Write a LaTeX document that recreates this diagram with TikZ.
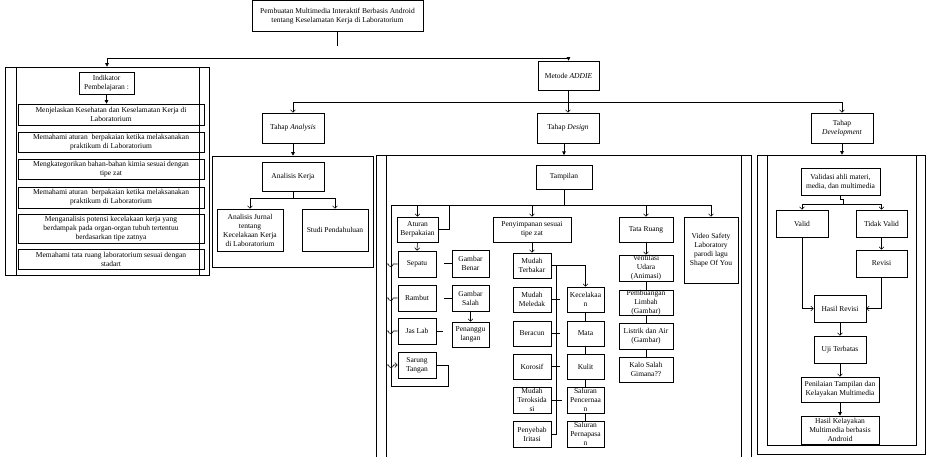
\documentclass[tikz,border=0pt]{standalone}
\usepackage{fontspec}
\setmainfont{Liberation Serif}
\usetikzlibrary{arrows.meta,fit}
\newcommand\mybox[6]{%
  \node[box, fit={(#2,#3) (#4,#5)}] (#1) {};
  \node[txt] (#1t) at (#1.center) {#6};}
\begin{document}
\begin{tikzpicture}[x=1pt,y=-1pt,
  txt/.style={font=\fontsize{7.5}{9}\selectfont, align=center, inner sep=0pt},
  box/.style={draw, inner sep=0pt, line width=0.6pt},
  ln/.style={line width=0.6pt},
  af/.style={ln,-{Triangle[length=3.5pt,width=3.5pt]}},
  ao/.style={ln,-{Straight Barb[length=2.5pt,width=5pt]}},
]
\useasboundingbox (0,0) rectangle (930,457);

% ---------- top ----------
\mybox{top}{252}{0.5}{423}{31}{Pembuatan Multimedia Interaktif Berbasis Android\\tentang Keselamatan Kerja di Laboratorium}
\coordinate (topend) at (337.5,46);
\draw[ln] (top.south) -- (topend);
\coordinate (h1) at (337.5,58);

% ---------- left panel ----------
\node[box, fit={(5,67) (209,275)}] (P1) {};
\draw[ln] (16,67) -- (16,275) (199,67) -- (199,275);
\mybox{ind}{79}{72}{134}{94}{Indikator\\Pembelajaran :}
\mybox{L1}{18}{104}{204}{125}{Menjelaskan Kesehatan dan Keselamatan Kerja di\\Laboratorium}
\mybox{L2}{18}{132}{204}{152}{Memahami aturan\ \ berpakaian ketika melaksanakan\\praktikum di Laboratorium}
\mybox{L3}{18}{159}{204}{179}{Mengkategorikan bahan-bahan kimia sesuai dengan\\tipe zat}
\mybox{L4}{18}{187}{204}{208}{Memahami aturan\ \ berpakaian ketika melaksanakan\\praktikum di Laboratorium}
\mybox{L5}{18}{214}{204}{243}{Menganalisis potensi kecelakaan kerja yang\\berdampak pada organ-organ tubuh tertentuu\\berdasarkan tipe zatnya}
\mybox{L6}{18}{249}{204}{269}{Memahami tata ruang laboratorium sesuai dengan\\stadart}
\draw[af] (ind.south) -- (ind.south |- L1.north);

% ---------- ADDIE ----------
\mybox{met}{538}{61}{599}{90}{Metode \textit{ADDIE}}
\draw[af] (h1) -| (P1.north);
\draw[af] (h1) -| (met.north);
\mybox{TA}{262}{113}{324}{143}{Tahap \textit{Analysis}}
\mybox{TD}{537}{113}{599}{143}{Tahap \textit{Design}}
\mybox{TV0}{811}{113}{873}{143}{Tahap\\\textit{Development}}
\coordinate (h2) at (568.5,102);
\draw[ln] (met.south) -- (h2);
\draw[ao] (h2) -| (TA.north);
\draw[ao] (h2) -| (TD.north);
\draw[ao] (h2) -| (TV0.north);

% ---------- Analysis panel ----------
\node[box, fit={(212,156) (373,267)}] (PA) {};
\draw[af] (TA.south) -- (TA.south |- PA.north);
\mybox{AK}{262}{162}{324}{191}{Analisis Kerja}
\mybox{AJ}{217}{209}{283}{251}{Analisis Jurnal\\tentang\\Kecelakaan Kerja\\di Laboratorium}
\mybox{SP}{302}{209}{368}{251}{Studi Pendahuluan}
\coordinate (h3) at (293,198);
\draw[ln] (AK.south) -- (h3);
\draw[ao] (h3) -| (AJ.north);
\draw[ao] (h3) -| (SP.north);

% ---------- Design panel ----------
\node[box, fit={(376,155) (751,465)}] (PD) {};
\draw[ln] (386,155) -- (386,465) (741,155) -- (741,465);
\mybox{tmp}{536}{165}{592}{189}{Tampilan}
\draw[af] (564,143) -- (564,155);
\coordinate (h4) at (564,205);
\draw[ln] (tmp.south) -- (h4);
\mybox{ATB}{397}{217}{438}{242}{Aturan\\Berpakaian}
\mybox{PZ}{493}{217}{571}{242}{Penyimpanan sesuai\\tipe zat}
\mybox{TR}{619}{217}{673}{242}{Tata Ruang}
\mybox{VS}{684}{217}{738}{283}{Video Safety\\Laboratory\\parodi lagu\\Shape Of You}
\draw[ln] (391,205) -- (h4);
\draw[ao] (h4) -| (ATB.north);
\draw[ao] (h4) -| (PZ.north);
\draw[ao] (h4) -| (TR.north);
\draw[ao] (h4) -| (VS.north);
\draw[ln] (ATB.east) -- (449,229.5) -- (449,205);

% clothing
\mybox{SPT}{398}{251}{436}{277}{Sepatu}
\mybox{GB}{452}{250}{489}{277}{Gambar\\Benar}
\mybox{RB}{398}{285}{436}{311}{Rambut}
\mybox{GS}{452}{285}{489}{311}{Gambar\\Salah}
\mybox{PG}{452}{322}{489}{347}{Penanggu\\langan}
\mybox{JL}{398}{318}{436}{344}{Jas Lab}
\mybox{SRT}{398}{352}{436}{378}{Sarung\\Tangan}
\draw[ao] (ATB.south) -- (SPT.north);
\draw[ln] (444,263.5) -- (GB.west);
\draw[ln] (444,298) -- (GS.west);
\draw[ao] (GS.south) -- (PG.north);
\coordinate (jlend) at (443,331);
\draw[ln] (JL.east) -- (jlend);
\draw[ln] (391,205) -- (391,386) -- (448,386) -- (448,365) -- (SRT.east);
\foreach \n in {SPT,RB,JL}{
  \draw[ln] (\n.west) -- ++(-4.5,0) arc[start angle=0,end angle=180,radius=2.5] -- ++(-1.5,0);
}
\draw[ao] (386.5,365) -- (388.5,365) arc[start angle=180,end angle=0,radius=2.5] -- (SRT.west);

% substances
\mybox{MT}{513}{253}{551}{278}{Mudah\\Terbakar}
\mybox{MM}{513}{287}{551}{312}{Mudah\\Meledak}
\mybox{BR}{513}{321}{551}{346}{Beracun}
\mybox{KR}{513}{354}{551}{379}{Korosif}
\mybox{MO}{513}{387}{551}{413}{Mudah\\Teroksida\\si}
\mybox{PI}{513}{421}{551}{447}{Penyebab\\Iritasi}
\mybox{KC}{567}{287}{604}{312}{Kecelakaa\\n}
\mybox{MA}{567}{321}{604}{346}{Mata}
\mybox{KL}{567}{354}{604}{379}{Kulit}
\mybox{SC}{567}{387}{604}{413}{Saluran\\Pencernaa\\n}
\mybox{SN}{567}{421}{604}{447}{Saluran\\Pernapasa\\n}
\draw[ao] (PZ.south) -- (MT.north);
\coordinate (v5) at (556,265.5);
\draw[ln] (MT.east) -- (v5) -- (556,434) -- (PI.east);
\draw[ao] (v5) -| (KC.north);
\foreach \n in {MM,BR,KR}{ \draw[ln] (\n.east) -- ++(9,0); }
\draw[ln] (MO.east) -- ++(11,0);
\draw[ln] (KC.south) -- (MA.north) (MA.south) -- (KL.north) (KL.south) -- (SC.north) (SC.south) -- (SN.north);

% rooms
\mybox{VU}{619}{255}{673}{281}{Ventilasi\\Udara\\(Animasi)}
\mybox{PL}{619}{290}{673}{315}{Pembuangan\\Limbah\\(Gambar)}
\mybox{LA}{619}{323}{673}{349}{Listrik dan Air\\(Gambar)}
\mybox{KS}{619}{357}{673}{382}{Kalo Salah\\Gimana??}
\draw[ao] (TR.south) -- (VU.north);
\draw[ln] (VU.south) -- (PL.north) (PL.south) -- (LA.north) (LA.south) -- (KS.north);

% ---------- Development panel ----------
\node[box, fit={(757,155) (925,454)}] (PV) {};
\draw[ln] (767,155) -- (767,445) -- (916,445) -- (916,155);
\draw[af] (TV0.south) -- (TV0.south |- PV.north);
\mybox{VA}{801}{168}{880}{195}{Validasi ahli materi,\\media, dan multimedia}
\mybox{VL}{776}{210}{828}{237}{Valid}
\mybox{TV}{856}{210}{907}{237}{Tidak Valid}
\mybox{RV}{856}{250}{907}{277}{Revisi}
\mybox{HR}{814}{295}{866}{322}{Hasil Revisi}
\mybox{UT}{814}{336}{866}{363}{Uji Terbatas}
\mybox{PN}{801}{377}{879}{402}{Penilaian Tampilan dan\\Kelayakan Multimedia}
\mybox{HK}{801}{416}{879}{444}{Hasil Kelayakan\\Multimedia berbasis\\Android}
\coordinate (vj) at (843,204);
\draw[ln] (VA.south) -- (840.5,199.5) -- (843,199.5) -- (vj);
\draw[ao] (vj) -| (VL.north);
\draw[ao] (vj) -| (TV.north);
\draw[ao] (TV.south) -- (RV.north);
\draw[ao] (VL.south) |- (HR.west);
\draw[ao] (RV.south) |- (HR.east);
\draw[ao] (HR.south) -- (UT.north);
\draw[ao] (UT.south) -- (PN.north);
\draw[af] (PN.south) -- (HK.north);
\end{tikzpicture}
\end{document}
